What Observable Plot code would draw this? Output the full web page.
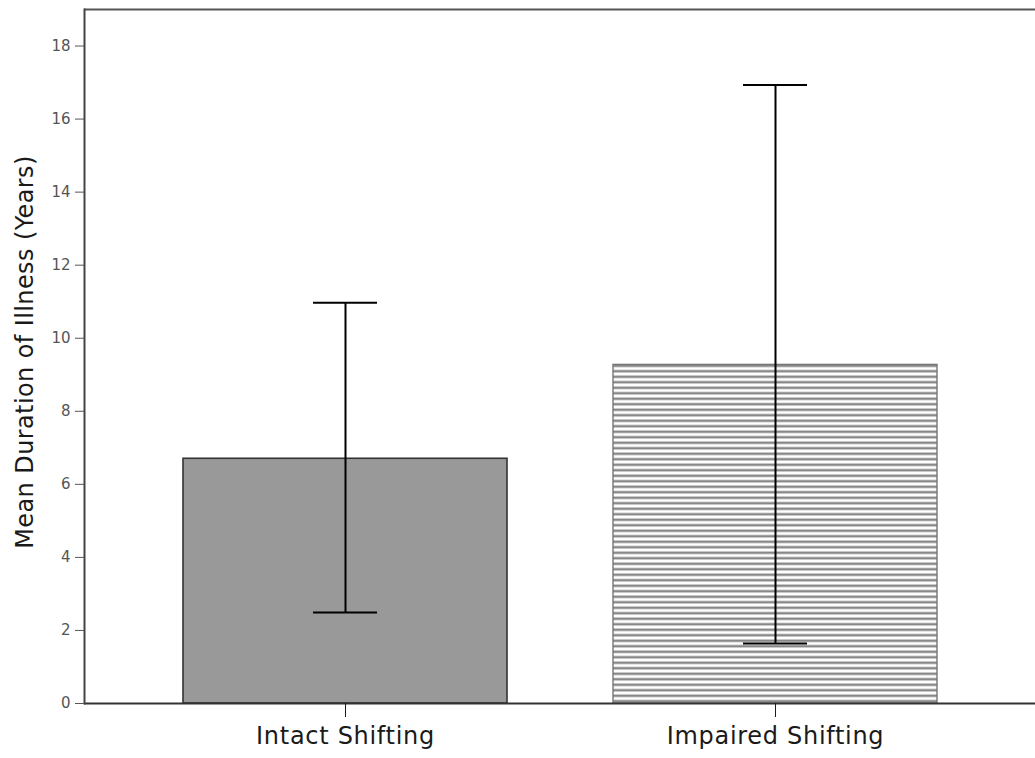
<!DOCTYPE html>
<html>
<head>
<meta charset="utf-8">
<script src="https://cdn.jsdelivr.net/npm/d3@7"></script>
<script src="https://cdn.jsdelivr.net/npm/@observablehq/plot@0.6"></script>
<style>
  html, body { margin: 0; padding: 0; background: #fff; }
  #chart svg { display: block; font-family: "DejaVu Sans", Verdana, sans-serif; }
  #chart svg g[aria-label="x-axis tick label"] text { letter-spacing: 0.7px; }
</style>
</head>
<body>
<div id="chart"></div>
<script>
const categories = ["Intact Shifting", "Impaired Shifting"];
const means = [6.7, 9.27];
const upper = [10.97, 16.93];
const lower = [2.49, 1.64];
const yTicks = [0, 2, 4, 6, 8, 10, 12, 14, 16, 18];
const yLabel = "Mean Duration of Illness (Years)";

const data = categories.map((c, i) => ({cat: c, mean: means[i], hi: upper[i], lo: lower[i]}));

const chart = Plot.plot({
  width: 1035,
  height: 758,
  marginLeft: 84,
  marginRight: 0,
  marginTop: 9,
  marginBottom: 55,
  style: {fontFamily: "DejaVu Sans, Verdana, sans-serif", background: "#fff"},
  x: {domain: categories, paddingInner: 0.247, paddingOuter: 0.229, label: null},
  y: {domain: [0, 19]},
  marks: [
    Plot.barY(data.filter(d => d.cat === categories[0]), {x: "cat", y: "mean", fill: "#999999", stroke: "#333", strokeWidth: 1.6}),
    Plot.barY(data.filter(d => d.cat === categories[1]), {x: "cat", y: "mean", fill: "url(#hatch)", stroke: "#777", strokeWidth: 1.4}),
    Plot.ruleX(data, {x: "cat", y1: "lo", y2: "hi", stroke: "#000", strokeWidth: 2}),
    Plot.tickY(data, {x: "cat", y: "hi", insetLeft: 130, insetRight: 130, stroke: "#000", strokeWidth: 2}),
    Plot.tickY(data, {x: "cat", y: "lo", insetLeft: 130, insetRight: 130, stroke: "#000", strokeWidth: 2}),
    Plot.ruleY([0], {stroke: "#333", strokeWidth: 2}),
    Plot.ruleY([19], {stroke: "#555", strokeWidth: 2}),
    Plot.frame({anchor: "left", stroke: "#444", strokeWidth: 2}),
    Plot.axisY({ticks: yTicks, tickSize: 9, tickPadding: 5, fontSize: 15, color: "#555", label: null}),
    Plot.axisX({tickSize: 14, tickPadding: 9, fontSize: 24, color: "#1a1a1a", label: null})
  ]
});

// hatch pattern
const svg = d3.select(chart);
const defs = svg.insert("defs", ":first-child");
const pat = defs.append("pattern")
  .attr("id", "hatch")
  .attr("patternUnits", "userSpaceOnUse")
  .attr("width", 10)
  .attr("height", 5.5);
pat.append("rect").attr("width", 10).attr("height", 5.5).attr("fill", "#ffffff");
pat.append("rect").attr("y", 1.5).attr("width", 10).attr("height", 2.5).attr("fill", "#888888");

// y-axis title
svg.append("text")
  .attr("transform", "translate(26,352) rotate(-90)")
  .attr("text-anchor", "middle")
  .attr("dominant-baseline", "middle")
  .attr("font-size", 24)
  .attr("letter-spacing", "0.4px")
  .attr("fill", "#1a1a1a")
  .text(yLabel);

document.getElementById("chart").appendChild(chart);
</script>
</body>
</html>
